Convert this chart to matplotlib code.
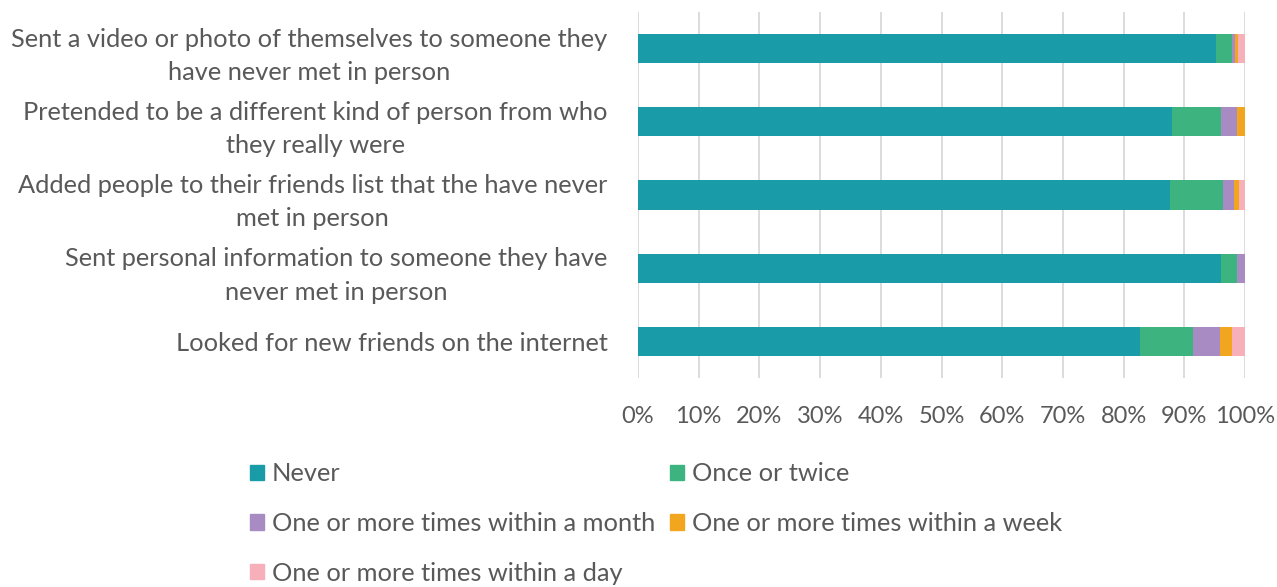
import matplotlib
matplotlib.use("Agg")
import matplotlib.pyplot as plt
from matplotlib.patches import Patch
from matplotlib.ticker import PercentFormatter

categories = [
    "Sent a video or photo of themselves to someone they\nhave never met in person",
    "Pretended to be a different kind of person from who\nthey really were",
    "Added people to their friends list that the have never\nmet in person",
    "Sent personal information to someone they have\nnever met in person",
    "Looked for new friends on the internet",
]
series_names = [
    "Never",
    "Once or twice",
    "One or more times within a month",
    "One or more times within a week",
    "One or more times within a day",
]
never = [95.2, 87.9, 87.7, 96.0, 82.7]
once_twice = [2.6, 8.1, 8.7, 2.6, 8.8]
monthly = [0.6, 2.6, 1.8, 1.4, 4.3]
weekly = [0.5, 1.4, 0.8, 0.0, 2.1]
daily = [1.1, 0.0, 1.0, 0.0, 2.1]
tick_values = list(range(0, 101, 10))

series = [never, once_twice, monthly, weekly, daily]
colors = ["#1a9ca8", "#3db37f", "#a98bc4", "#f2a620", "#f7afba"]
text_color = "#595959"
font = "Lato"

fig = plt.figure(figsize=(12.77, 5.87), dpi=100)
ax = fig.add_axes([638 / 1277, 1 - 378 / 587, (1245 - 638) / 1277, (378 - 12) / 587])

y = list(range(len(categories)))
left = [0.0] * len(categories)
for vals, col, name in zip(series, colors, series_names):
    ax.barh(y, vals, left=left, height=0.4, color=col, label=name, zorder=3)
    left = [l + v for l, v in zip(left, vals)]

ax.set_xlim(0, 100)
ax.set_ylim(len(categories) - 0.5, -0.5)
ax.set_xticks(tick_values)
ax.xaxis.set_major_formatter(PercentFormatter(decimals=0))
ax.set_yticks(y)
ax.set_yticklabels(categories, fontfamily=font, fontsize=18.3, color=text_color,
                   multialignment="center", linespacing=1.55)
ax.tick_params(axis="x", labelsize=17, labelcolor=text_color, length=0, pad=20)
ax.tick_params(axis="y", length=0, pad=22)
for lbl in ax.get_xticklabels():
    lbl.set_fontfamily(font)
ax.grid(axis="x", color="#d9d9d9", linewidth=1.3, zorder=0)
for s in ax.spines.values():
    s.set_visible(False)

handles = [Patch(color=c) for c in colors]
order = [0, 2, 4, 1, 3]
leg = fig.legend([handles[i] for i in order], [series_names[i] for i in order],
                 loc="upper left", bbox_to_anchor=(240 / 1277, 1 - 452 / 587),
                 ncol=2, frameon=False, prop={"family": font, "size": 18.3},
                 handlelength=0.55, handleheight=0.55, handletextpad=0.3,
                 columnspacing=0.6, labelspacing=1.05, borderaxespad=0)
for t in leg.get_texts():
    t.set_color(text_color)

fig.savefig("out.png", dpi=100, facecolor="white")
